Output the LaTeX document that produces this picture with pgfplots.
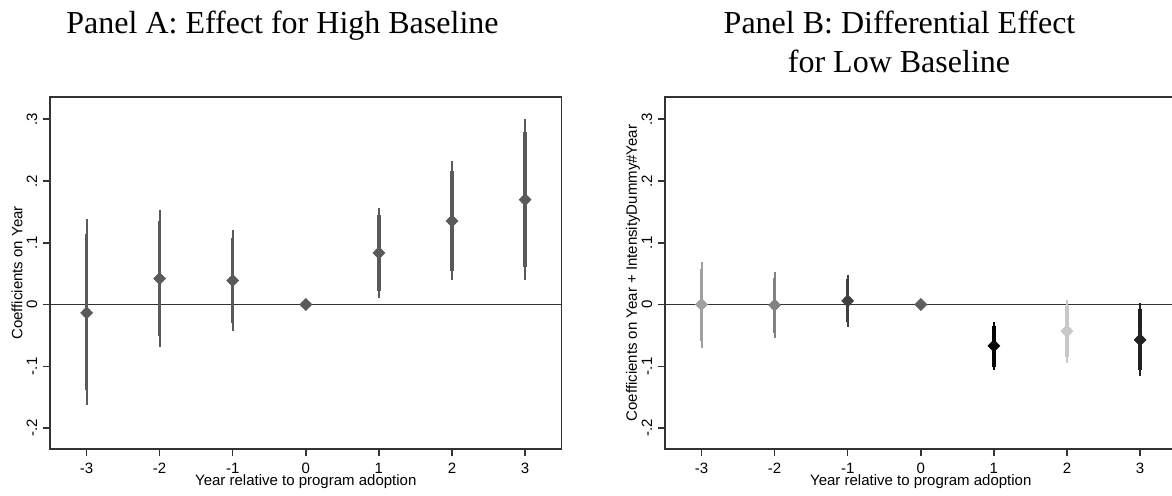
\documentclass[border=0pt]{standalone}
\usepackage{fontspec}
\setmainfont{Liberation Serif}
\newfontfamily\arial{Liberation Sans}
\usepackage{pgfplots}
\pgfplotsset{compat=1.18}
\usepackage{pgfplotstable}

\definecolor{cA}{HTML}{5A5A5A}
\definecolor{cm3}{HTML}{A0A0A0}
\definecolor{cm2}{HTML}{828282}
\definecolor{cm1}{HTML}{404040}
\definecolor{cz}{HTML}{5E5E5E}
\definecolor{cp1}{HTML}{050505}
\definecolor{cp2}{HTML}{C8C8C8}
\definecolor{cp3}{HTML}{222222}
\definecolor{frm}{HTML}{333333}

% Panel A: estimate, 95% CI (thin), 90% CI (thick)
\pgfplotstableread{
x  est     lo95    hi95    lo90    hi90
-3 -0.0136 -0.163  0.138  -0.1386  0.1137
-2  0.042  -0.0686 0.1525 -0.0513  0.1347
-1  0.0388 -0.0427 0.1207 -0.0297  0.1077
 1  0.0835  0.0107 0.157   0.022   0.1444
 2  0.1352  0.0393 0.2318  0.0544  0.216
 3  0.1698  0.0393 0.2997  0.0608  0.279
}\panelA

\pgfplotsset{
  stata/.style={
    scale only axis, width=255.8pt, height=176pt,
    xmin=-3.5, xmax=3.5, ymin=-0.234, ymax=0.336,
    xtick={-3,-2,-1,0,1,2,3}, xticklabels={-3,-2,-1,0,1,2,3},
    ytick={-0.2,-0.1,0,0.1,0.2,0.3}, yticklabels={-.2,-.1,0,.1,.2,.3},
    tick align=outside, xtick pos=bottom, ytick pos=left,
    major tick length=3.5pt,
    axis line style={line width=0.75pt, frm},
    every tick/.style={line width=0.75pt, frm},
    tick label style={font=\arial\fontsize{7.5}{9}\selectfont, text=black},
    label style={font=\arial\fontsize{7.5}{9}\selectfont},
    xticklabel style={anchor=center, yshift=-6pt},
    yticklabel style={rotate=90, anchor=center, yshift=5.5pt},
    xlabel={Year relative to program adoption},
    xlabel style={at={(axis description cs:0.5,-0.094)}, anchor=center},
    clip=false,
  },
  thinci/.style={only marks, mark=none, forget plot,
    error bars/.cd, y dir=both, y explicit, error mark=none,
    error bar style={line width=1pt, #1}},
  thickci/.style={only marks, mark=square*, mark size=2.1pt,
    mark options={rotate=45, fill=#1, draw=#1, line width=0.3pt}, forget plot,
    error bars/.cd, y dir=both, y explicit, error mark=none,
    error bar style={line width=1.7pt, #1}},
}

\begin{document}
\begin{tikzpicture}[x=1pt,y=1pt]
\path[use as bounding box] (0,0) rectangle (586,247.5);

\node[anchor=base, font=\fontsize{16}{19}\selectfont] at (141.25,231) {Panel A: Effect for High Baseline};
\node[anchor=base, font=\fontsize{16}{19}\selectfont] at (449.75,231) {Panel B: Differential Effect};
\node[anchor=base, font=\fontsize{16}{19}\selectfont] at (449.5,211.5) {for Low Baseline};

% ---------------- Panel A ----------------
\begin{axis}[stata, at={(25pt,23pt)}, anchor=south west,
  ylabel={Coefficients on Year},
  ylabel style={at={(axis description cs:-0.0645,0.5)}, anchor=center}]
\addplot[frm, line width=0.75pt, forget plot] coordinates {(-3.5,0) (3.5,0)};
\addplot[thinci=cA] table[x=x, y=est,
  y error plus expr=\thisrow{hi95}-\thisrow{est},
  y error minus expr=\thisrow{est}-\thisrow{lo95}] {\panelA};
\addplot[thickci=cA] table[x=x, y=est,
  y error plus expr=\thisrow{hi90}-\thisrow{est},
  y error minus expr=\thisrow{est}-\thisrow{lo90}] {\panelA};
\addplot[only marks, mark=square*, mark size=2.1pt,
  mark options={rotate=45, fill=cA, draw=cA}, forget plot] coordinates {(0,0)};
\end{axis}

% ---------------- Panel B ----------------
\begin{scope}
\clip (0,0) rectangle (586,247.5);
\begin{axis}[stata, at={(332.5pt,23pt)}, anchor=south west,
  ylabel={Coefficients on Year + IntensityDummy\#Year},
  ylabel style={at={(axis description cs:-0.0626,0.5)}, anchor=center}]
\addplot[frm, line width=0.75pt, forget plot] coordinates {(-3.5,0) (3.5,0)};
% -3
\addplot[thinci=cm3] coordinates {(-3,0) += (0,0.0695) -= (0,0.0700)};
\addplot[thickci=cm3] coordinates {(-3,0) += (0,0.0582) -= (0,0.0588)};
% -2
\addplot[thinci=cm2] coordinates {(-2,-0.001) += (0,0.0538) -= (0,0.0540)};
\addplot[thickci=cm2] coordinates {(-2,-0.001) += (0,0.0447) -= (0,0.0449)};
% -1
\addplot[thinci=cm1] coordinates {(-1,0.0059) += (0,0.0421) -= (0,0.0419)};
\addplot[thickci=cm1] coordinates {(-1,0.0059) += (0,0.0351) -= (0,0.0345)};
% 0
\addplot[only marks, mark=square*, mark size=2.1pt,
  mark options={rotate=45, fill=cz, draw=cz}, forget plot] coordinates {(0,0)};
% 1
\addplot[thinci=cp1] coordinates {(1,-0.067) += (0,0.0390) -= (0,0.0393)};
\addplot[thickci=cp1] coordinates {(1,-0.067) += (0,0.0324) -= (0,0.0339)};
% 2
\addplot[thinci=cp2] coordinates {(2,-0.0432) += (0,0.0512) -= (0,0.0512)};
\addplot[thickci=cp2] coordinates {(2,-0.0432) += (0,0.0405) -= (0,0.0415)};
% 3
\addplot[thinci=cp3] coordinates {(3,-0.0572) += (0,0.0598) -= (0,0.0588)};
\addplot[thickci=cp3] coordinates {(3,-0.0572) += (0,0.0496) -= (0,0.0488)};
\end{axis}
\end{scope}
\end{tikzpicture}
\end{document}
